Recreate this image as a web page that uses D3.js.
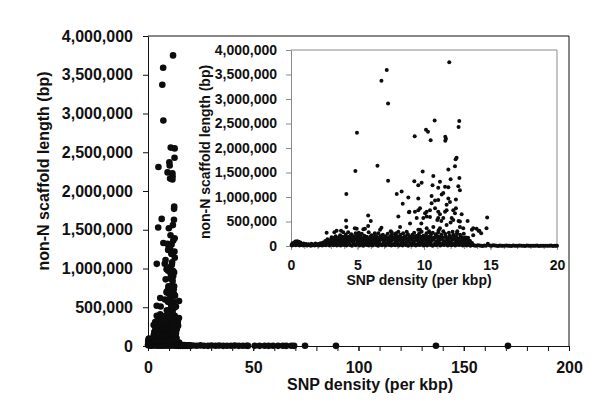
<!DOCTYPE html>
<html>
<head>
<meta charset="utf-8">
<script src="https://cdn.jsdelivr.net/npm/d3@7"></script>
<style>
body { margin: 0; background: #fff; }
text { font-family: Arial, "Liberation Sans", sans-serif; font-weight: bold; fill: #111; }
</style>
</head>
<body>
<svg id="chart" width="600" height="410"></svg>
<script>
// [SNP density per kbp, non-N scaffold length bp]
var highScaffolds = [
  [11.9,3750000],[7.2,3590000],[6.8,3370000],[7.3,2910000],
  [10.8,2560000],[12.65,2550000],[12.6,2430000],[4.96,2310000],
  [10.15,2370000],[10.3,2330000],[9.3,2240000],[10.5,2160000],
  [11.6,2230000],[11.65,2190000],[11.6,2150000],
  [12.45,1800000],[12.38,1770000],[12.33,1630000],[6.5,1640000],[4.84,1530000],
  [11.83,1560000],[9.9,1520000],[7.3,1330000],[9.27,1320000],[9.82,1290000],
  [10.7,1430000],[11.2,1310000],[12.66,1390000],[12.0,1360000],[10.64,1240000],
  [11.07,1190000],[11.58,1210000],[11.83,1200000],[9.57,1240000],[12.58,1220000],
  [12.7,1140000],[7.95,1060000],[8.32,1110000],[4.16,1060000],[10.57,1020000],
  [11.33,1050000],[11.45,1080000]
];

var midScaffolds = [
  [8.82,990000],[9.57,970000],[11.83,970000],[11.95,900000],[12.4,950000],
  [11.07,940000],[10.83,930000],[8.4,860000],[10.57,870000],[11.7,840000],
  [8.9,700000],[9.32,700000],[9.57,730000],[9.7,770000],[10.2,700000],
  [10.45,730000],[10.83,770000],[11.07,700000],[11.2,650000],[11.58,700000],
  [11.7,730000],[12.33,670000],[12.4,770000],[12.83,650000],[8.07,600000],
  [9.95,570000],[10.45,590000],[11.07,570000],[12.08,570000],[14.75,580000],
  [12.2,730000],[10.08,670000],[10.2,600000],[11.45,570000],[12.2,530000],
  [12.7,500000],[13.28,510000],[13.7,360000],[14.16,310000],[14.7,360000],
  [13.7,220000],[14.3,260000],[12.95,360000],[12.7,390000],[11.7,430000],
  [11.2,360000],[10.7,390000],[10.2,360000],[9.7,330000],[9.45,570000],
  [8.95,460000],[9.8,460000],[8.2,390000],[8.07,290000],[7.57,280000],
  [8.7,290000],[9.57,330000],[5.8,620000],[6.0,510000],[5.8,410000],
  [4.14,520000],[4.16,390000],[2.68,270000],[3.26,280000],[3.43,310000],
  [3.76,310000],[3.93,280000],[4.3,280000],[4.8,360000],[5.44,340000],
  [4.94,350000],[5.56,350000],[6.8,370000],[6.7,330000],[7.5,300000],
  [8.87,690000],[11.0,530000],[11.3,510000],[12.0,480000],[12.6,510000],
  [13.6,330000],[13.95,350000],[14.1,310000],[12.5,300000],[11.1,320000],
  [10.4,280000],[6.3,260000],[5.1,270000],[7.9,260000]
];

var denseBand = [
  [0.04,20000],[0.11,55000],[0.17,35000],[0.26,70000],[0.33,90000],[0.38,40000],
  [0.46,95000],[0.52,60000],[0.58,85000],[0.63,30000],[0.71,70000],[0.79,45000],
  [0.86,25000],[0.95,50000],[1.04,20000],[1.13,40000],[1.22,15000],[1.31,35000],
  [1.42,20000],[1.53,45000],[1.61,15000],[1.72,30000],[1.84,50000],[1.93,20000],
  [2.05,40000],[2.14,15000],[2.22,55000],[2.33,30000],[2.41,70000],[2.52,25000],
  [2.58,100000],[2.66,50000],[2.74,140000],[2.83,75000],[2.91,30000],[2.97,120000],
  [3.05,180000],[3.09,90000],[3.14,30000],[3.22,150000],[3.27,60000],[3.36,200000],
  [3.41,110000],[3.47,25000],[3.55,170000],[3.61,80000],[3.69,220000],[3.74,130000],
  [3.8,40000],[3.87,190000],[3.94,100000],[4.02,20000],[4.07,160000],[4.12,230000],
  [4.19,70000],[4.26,120000],[4.34,190000],[4.39,35000],[4.46,150000],[4.53,240000],
  [4.58,90000],[4.67,200000],[4.72,50000],[4.79,130000],[4.86,260000],[4.91,180000],
  [4.99,70000],[5.06,220000],[5.11,110000],[5.18,30000],[5.24,170000],[5.32,250000],
  [5.37,80000],[5.45,140000],[5.51,210000],[5.58,40000],[5.64,120000],[5.7,190000],
  [5.79,70000],[5.84,280000],[5.91,150000],[5.96,30000],[6.05,220000],[6.11,100000],
  [6.17,170000],[6.25,50000],[6.3,240000],[6.38,130000],[6.44,190000],[6.53,60000],
  [6.57,260000],[6.65,110000],[6.72,200000],[6.77,30000],[6.86,160000],[6.91,230000],
  [6.99,80000],[7.04,140000],[7.13,200000],[7.17,40000],[7.27,250000],[7.32,110000],
  [7.41,180000],[7.45,60000],[7.54,220000],[7.59,130000],[7.68,30000],[7.73,170000],
  [7.81,240000],[7.87,90000],[7.96,150000],[8.01,200000],[8.1,40000],[8.15,120000],
  [8.24,230000],[8.29,170000],[8.38,70000],[8.43,260000],[8.51,130000],[8.56,200000],
  [8.65,30000],[8.7,160000],[8.79,240000],[8.84,90000],[8.93,190000],[8.98,50000],
  [9.07,140000],[9.12,230000],[9.21,80000],[9.26,270000],[9.35,170000],[9.4,30000],
  [9.49,210000],[9.54,120000],[9.63,250000],[9.68,60000],[9.77,180000],[9.82,290000],
  [9.91,100000],[9.96,210000],[10.05,40000],[10.1,150000],[10.19,260000],[10.24,90000],
  [10.33,190000],[10.38,300000],[10.47,60000],[10.52,230000],[10.61,130000],[10.66,270000],
  [10.75,30000],[10.8,170000],[10.89,240000],[10.94,80000],[11.03,200000],[11.08,280000],
  [11.17,120000],[11.22,50000],[11.31,230000],[11.36,160000],[11.45,300000],[11.5,90000],
  [11.59,250000],[11.64,190000],[11.73,40000],[11.78,130000],[11.87,270000],[11.92,210000],
  [12.01,70000],[12.06,160000],[12.15,290000],[12.2,230000],[12.29,30000],[12.34,120000],
  [12.43,190000],[12.48,260000],[12.57,80000],[12.62,150000],[12.71,230000],[12.76,40000],
  [12.85,180000],[12.9,110000],[12.99,250000],[13.04,60000],[13.13,140000],[13.18,30000],
  [13.27,90000],[13.32,170000],[13.41,40000],[13.46,100000],[13.56,20000],[13.61,60000],
  [13.72,15000]
];

var lowRow = [
  [0.08,10000],[0.22,25000],[0.36,15000],[0.49,30000],[0.64,10000],[0.77,20000],
  [0.92,8000],[1.06,30000],[1.2,12000],[1.35,22000],[1.48,6000],[1.63,25000],
  [1.78,10000],[1.9,18000],[2.06,8000],[2.2,28000],[2.35,12000],[2.48,35000],
  [2.62,15000],[2.77,40000],[2.9,10000],[3.03,45000],[3.18,15000],[3.31,35000],
  [3.45,8000],[3.6,40000],[3.73,12000],[3.88,30000],[4.02,50000],[4.16,10000],
  [4.3,45000],[4.44,20000],[4.58,5000],[4.72,38000],[4.87,15000],[5.0,48000],
  [5.15,10000],[5.28,30000],[5.43,6000],[5.57,45000],[5.7,18000],[5.85,8000],
  [5.99,40000],[6.13,12000],[6.27,50000],[6.42,20000],[6.55,6000],[6.7,42000],
  [6.84,15000],[6.98,35000],[7.12,8000],[7.26,48000],[7.4,20000],[7.54,10000],
  [7.69,40000],[7.83,15000],[7.97,50000],[8.1,8000],[8.25,30000],[8.39,12000],
  [8.53,45000],[8.68,20000],[8.81,6000],[8.96,38000],[9.1,14000],[9.24,50000],
  [9.38,10000],[9.52,32000],[9.67,18000],[9.81,45000],[9.95,8000],[10.08,28000],
  [10.23,12000],[10.37,48000],[10.51,20000],[10.65,6000],[10.8,40000],[10.93,15000],
  [11.08,50000],[11.22,10000],[11.36,35000],[11.5,18000],[11.64,45000],[11.79,8000],
  [11.93,30000],[12.07,14000],[12.21,48000],[12.35,10000],[12.5,36000],[12.64,18000],
  [12.78,45000],[12.92,8000],[13.06,30000],[13.2,12000],[13.35,25000],[13.49,6000],
  [13.64,18000]
];

var midRow = [
  [3.02,95000],[3.2,120000],[3.39,75000],[3.58,130000],[3.77,85000],[3.96,140000],
  [4.14,100000],[4.33,80000],[4.52,125000],[4.7,90000],[4.9,135000],[5.08,75000],
  [5.27,110000],[5.46,140000],[5.64,85000],[5.83,120000],[6.02,95000],[6.21,135000],
  [6.4,80000],[6.59,115000],[6.78,140000],[6.96,90000],[7.15,125000],[7.34,75000],
  [7.53,105000],[7.72,135000],[7.9,85000],[8.09,120000],[8.28,95000],[8.47,140000],
  [8.66,80000],[8.85,115000],[9.03,130000],[9.22,90000],[9.41,125000],[9.6,75000],
  [9.79,110000],[9.97,140000],[10.16,85000],[10.35,120000],[10.54,95000],[10.73,135000],
  [10.91,80000],[11.1,115000],[11.29,140000],[11.48,90000],[11.67,125000],[11.86,75000],
  [12.04,105000],[12.23,135000],[12.42,85000],[12.61,120000],[12.8,95000],[12.98,130000],
  [13.17,80000],[13.36,110000]
];

var upperRow = [
  [3.12,165000],[3.33,185000],[3.52,150000],[3.71,195000],[3.9,160000],[4.1,180000],
  [4.29,150000],[4.48,200000],[4.66,165000],[4.85,185000],[5.03,155000],[5.22,195000],
  [5.41,160000],[5.6,180000],[5.78,150000],[5.97,190000],[6.16,165000],[6.35,185000],
  [6.54,155000],[6.73,195000],[6.91,160000],[7.1,180000],[7.29,150000],[7.48,190000],
  [7.67,165000],[7.86,200000],[8.04,155000],[8.23,185000],[8.42,160000],[8.61,195000],
  [8.8,150000],[8.98,180000],[9.17,165000],[9.36,200000],[9.55,155000],[9.74,190000],
  [9.92,170000],[10.11,200000],[10.3,155000],[10.49,185000],[10.68,165000],[10.86,200000],
  [11.05,150000],[11.24,190000],[11.43,170000],[11.62,200000],[11.81,155000],[11.99,185000],
  [12.18,165000],[12.37,200000],[12.56,150000],[12.75,180000],[12.94,160000],[13.13,175000]
];

var zeroTail = [
  [13.8,8000],[13.92,3000],[14.05,15000],[14.18,9000],[14.3,5000],[14.41,2000],
  [14.52,12000],[14.66,7000],[14.8,45000],[14.95,8000],[15.08,3000],[15.2,14000],
  [15.33,8000],[15.46,4000],[15.58,2000],[15.7,10000],[15.82,6000],[15.93,6000],
  [16.07,4000],[16.2,12000],[16.32,7000],[16.44,3000],[16.57,2000],[16.7,9000],
  [16.83,6000],[16.96,5000],[17.08,3000],[17.2,11000],[17.34,7000],[17.47,4000],
  [17.6,2000],[17.73,8000],[17.86,5000],[17.98,3000],[18.12,3000],[18.25,7000],
  [18.38,6000],[18.5,10000],[18.63,2000],[18.76,4000],[18.89,7000],[19.02,6000],
  [19.16,3000],[19.3,3000],[19.43,5000],[19.55,8000],[19.68,2000],[19.8,5000],
  [19.92,6000],[20.0,4000],[21.4,6000],[23.1,3000],[24.9,8000],[26.6,4000],
  [28.5,2000],[30.2,6000],[32.1,3000],[33.8,5000],[35.7,2000],[37.5,4000],
  [39.4,3000],[41.2,5000],[43.1,2000],[45.0,4000],[46.8,3000],[47.5,2000],
  [50.7,3000],[53.0,2000],[55.4,4000],[57.3,2000],[59.4,3000],[61.8,2000],
  [64.1,3000],[65.7,2000],[68.1,3000],[69.4,2000],[74.6,3000],[89.3,2000],
  [136.8,3000],[171,2000]
];

var densityTicks = [0, 50, 100, 150, 200];
var insetDensityTicks = [0, 5, 10, 15, 20];
var lengthTicks = [0, 500000, 1000000, 1500000, 2000000, 2500000, 3000000, 3500000, 4000000];

var allPoints = highScaffolds.concat(midScaffolds, denseBand, lowRow, midRow, upperRow, zeroTail);
var fmt = d3.format(",");

var svg = d3.select("#chart");

var x = d3.scaleLinear().domain([0, 200]).range([148, 569]);
var y = d3.scaleLinear().domain([0, 4000000]).range([346, 36]);
var xi = d3.scaleLinear().domain([0, 20]).range([291, 557]);
var yi = d3.scaleLinear().domain([0, 4000000]).range([246, 50]);

// ---- main plot ----
var my = svg.append("g")
    .attr("transform", "translate(" + x(0) + ",0)")
    .call(d3.axisLeft(y).tickValues(lengthTicks).tickFormat(fmt).tickSize(5).tickPadding(10).tickSizeOuter(0));
my.selectAll("text").style("font-size", "16px");

svg.append("g")
    .attr("transform", "translate(0," + y(0) + ")")
    .call(d3.axisBottom(x).tickValues(d3.range(0, 201, 10)).tickFormat("").tickSize(5).tickSizeOuter(0));

var mx = svg.append("g")
    .attr("transform", "translate(0," + y(0) + ")")
    .call(d3.axisBottom(x).tickValues(densityTicks).tickSize(5).tickPadding(11).tickSizeOuter(0));
mx.selectAll("text").style("font-size", "16px");

svg.selectAll(".domain, .tick line").attr("stroke", "#111");

svg.append("path")
    .attr("d", "M" + x(0) + "," + y(4000000) + "H" + x(200) + "V" + y(0))
    .attr("fill", "none")
    .attr("stroke", "#111");

svg.append("text")
    .attr("x", 370).attr("y", 390)
    .attr("text-anchor", "middle")
    .style("font-size", "16px")
    .text("SNP density (per kbp)");

svg.append("text")
    .attr("transform", "translate(49,171) rotate(-90)")
    .attr("text-anchor", "middle")
    .style("font-size", "16px")
    .text("non-N scaffold length (bp)");

svg.append("g").selectAll("circle")
    .data(allPoints)
  .enter().append("circle")
    .attr("cx", function(d) { return x(d[0]); })
    .attr("cy", function(d) { return y(d[1]); })
    .attr("r", 3.3)
    .attr("fill", "#0d0d0d");

// ---- inset ----
var inset = svg.append("g");

var iy = inset.append("g")
    .attr("transform", "translate(" + xi(0) + ",0)")
    .call(d3.axisLeft(yi).tickValues(lengthTicks).tickFormat(fmt).tickSize(5).tickPadding(9).tickSizeOuter(0));
iy.selectAll("text").style("font-size", "14px");

inset.append("g")
    .attr("transform", "translate(0," + yi(0) + ")")
    .call(d3.axisBottom(xi).tickValues(d3.range(0, 21, 1)).tickFormat("").tickSize(3).tickSizeOuter(0));

var ix = inset.append("g")
    .attr("transform", "translate(0," + yi(0) + ")")
    .call(d3.axisBottom(xi).tickValues(insetDensityTicks).tickSize(4).tickPadding(10).tickSizeOuter(0));
ix.selectAll("text").style("font-size", "14px");

inset.selectAll(".domain, .tick line").attr("stroke", "#8a8a8a");

inset.append("path")
    .attr("d", "M" + xi(0) + "," + yi(4000000) + "H" + xi(20) + "V" + yi(0))
    .attr("fill", "none")
    .attr("stroke", "#8a8a8a");

inset.append("text")
    .attr("x", 419).attr("y", 285)
    .attr("text-anchor", "middle")
    .style("font-size", "14px")
    .text("SNP density (per kbp)");

inset.append("text")
    .attr("transform", "translate(210,152) rotate(-90)")
    .attr("text-anchor", "middle")
    .style("font-size", "14px")
    .text("non-N scaffold length (bp)");

inset.append("g").selectAll("circle")
    .data(allPoints.filter(function(d) { return d[0] <= 20; }))
  .enter().append("circle")
    .attr("cx", function(d) { return xi(d[0]); })
    .attr("cy", function(d) { return yi(d[1]); })
    .attr("r", 2)
    .attr("fill", "#0d0d0d");
</script>
</body>
</html>
